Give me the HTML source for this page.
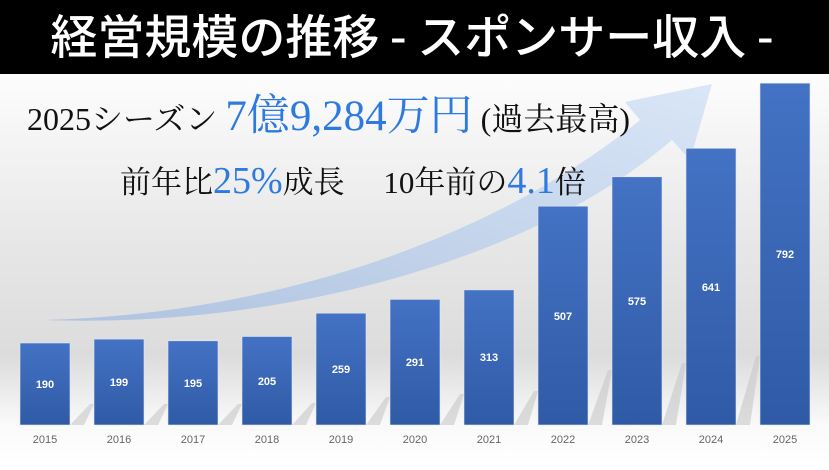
<!DOCTYPE html><html><head><meta charset="utf-8"><style>
body{margin:0;width:829px;height:465px;overflow:hidden;font-family:"Liberation Sans","Noto Sans CJK JP",sans-serif}
</style></head><body>
<svg width="829" height="465" xmlns="http://www.w3.org/2000/svg">
<defs>
<linearGradient id="bg" x1="0" y1="0" x2="0" y2="1"><stop offset="0" stop-color="#fdfdfd"/><stop offset="0.45" stop-color="#e6e6e6"/><stop offset="0.72" stop-color="#dcdcdc"/><stop offset="0.9" stop-color="#fafafa"/><stop offset="1" stop-color="#ffffff"/></linearGradient>
<linearGradient id="bar" x1="0" y1="0" x2="0" y2="1"><stop offset="0" stop-color="#4472c4"/><stop offset="1" stop-color="#2f5aa6"/></linearGradient>
<linearGradient id="arr" x1="0" y1="1" x2="1" y2="0"><stop offset="0" stop-color="#aac0e0"/><stop offset="1" stop-color="#d6e4f7"/></linearGradient>
</defs>
<rect x="0" y="74" width="829" height="391" fill="url(#bg)"/>
<rect x="0" y="0" width="829" height="74" fill="#000"/>
<text x="412" y="54" fill="#fff" font-size="47" text-anchor="middle" font-family="'Noto Sans CJK JP',sans-serif" font-weight="500">経営規模の推移 - スポンサー収入 -</text>
<path d="M45,320 C250,315 480,250 640,120 L625,102 L712,84 L690,160 L672,140 C520,270 260,328 45,320 Z" fill="url(#arr)" opacity="0.9"/>
<g font-family="'Liberation Serif','Noto Serif CJK SC',serif">
<text x="27" y="130" font-size="32" fill="#111">2025シーズン <tspan fill="#2f7ae0" font-size="43">7億9,284万円</tspan> (過去最高)</text>
<text x="120" y="193" font-size="31" fill="#111">前年比<tspan fill="#2f7ae0" font-size="38">25%</tspan>成長　 10年前の<tspan fill="#2f7ae0" font-size="38">4.1</tspan>倍</text>
</g>
<g fill="#c8c8c8" opacity="0.6">
<polygon points="70,425 90,404 94,404 84,425"/><polygon points="144,425 164,404 168,404 158,425"/><polygon points="218,425 238,404 242,404 232,425"/><polygon points="292,425 312,403 316,403 306,425"/><polygon points="366,425 386,397 390,397 380,425"/><polygon points="440,425 460,394 464,394 454,425"/><polygon points="514,425 534,391 538,391 528,425"/><polygon points="588,425 608,370 612,370 602,425"/><polygon points="662,425 682,363 686,363 676,425"/><polygon points="736,425 756,356 760,356 750,425"/>
</g>
<g fill="url(#bar)" stroke="#e0e6f0" stroke-width="0.6">
<rect x="20" y="343" width="50" height="82"/>
<rect x="94" y="339.1" width="50" height="85.9"/>
<rect x="168" y="340.8" width="50" height="84.2"/>
<rect x="242" y="336.5" width="50" height="88.5"/>
<rect x="316" y="313.2" width="50" height="111.8"/>
<rect x="390" y="299.4" width="50" height="125.6"/>
<rect x="464" y="289.9" width="50" height="135.1"/>
<rect x="538" y="206.2" width="50" height="218.8"/>
<rect x="612" y="176.8" width="50" height="248.2"/>
<rect x="686" y="148.3" width="50" height="276.7"/>
<rect x="760" y="83.2" width="50" height="341.8"/>
</g>
<g font-size="11" fill="#fff" font-weight="bold" text-anchor="middle">
<text x="45" y="388">190</text><text x="119" y="386">199</text><text x="193" y="387">195</text><text x="267" y="385">205</text><text x="341" y="373">259</text><text x="415" y="366">291</text><text x="489" y="361">313</text><text x="563" y="320">507</text><text x="637" y="305">575</text><text x="711" y="291">641</text><text x="785" y="258">792</text>
</g>
<g font-size="11" fill="#666" text-anchor="middle">
<text x="45" y="443">2015</text><text x="119" y="443">2016</text><text x="193" y="443">2017</text><text x="267" y="443">2018</text><text x="341" y="443">2019</text><text x="415" y="443">2020</text><text x="489" y="443">2021</text><text x="563" y="443">2022</text><text x="637" y="443">2023</text><text x="711" y="443">2024</text><text x="785" y="443">2025</text>
</g>
</svg>
</body></html>
